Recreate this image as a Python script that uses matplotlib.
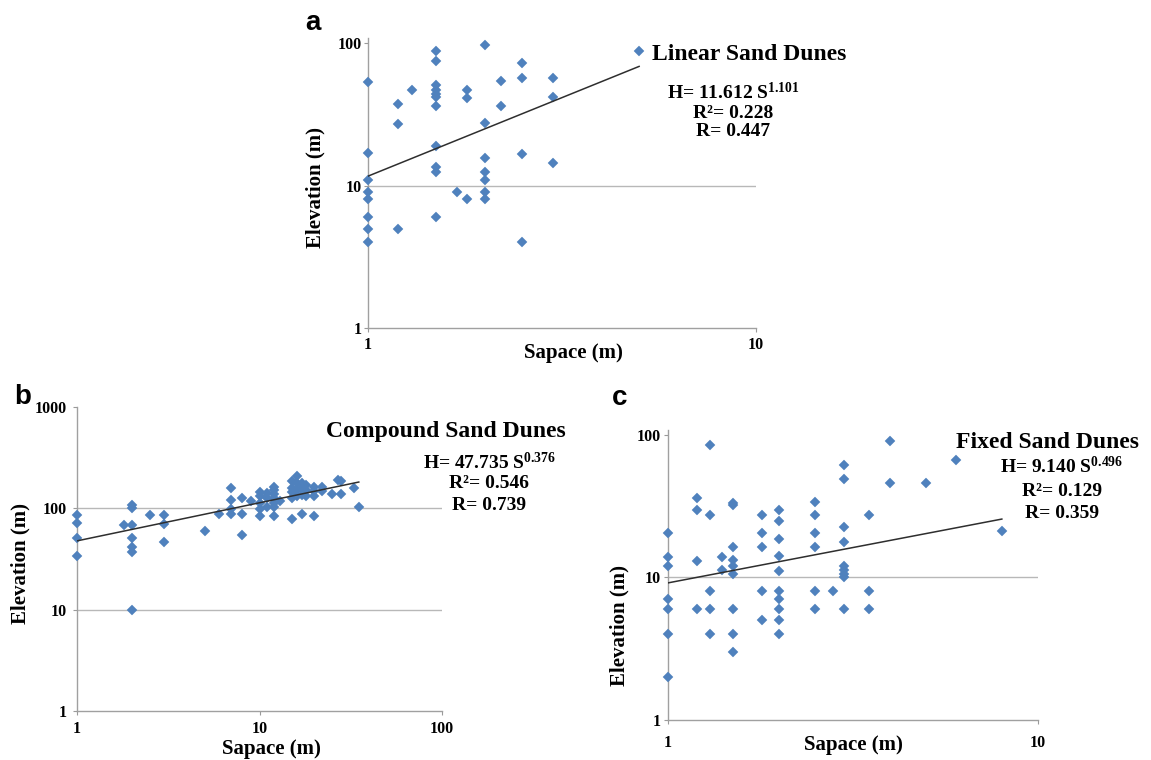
import matplotlib
matplotlib.use("Agg")
import matplotlib.pyplot as plt

plt.rcParams['font.family'] = ['Liberation Serif', 'DejaVu Serif']
plt.rcParams['font.weight'] = 'bold'
plt.rcParams['mathtext.fontset'] = 'custom'
plt.rcParams['mathtext.rm'] = 'Liberation Serif:bold'
plt.rcParams['mathtext.bf'] = 'Liberation Serif:bold'
plt.rcParams['mathtext.it'] = 'Liberation Serif:bold:italic'

# elevation values, grouped by spacing (x)
linear_cols = {
    1.0: [53, 17, 11, 9, 8, 6, 5, 4],
    1.2: [37, 27, 5],
    1.3: [47],
    1.5: [88, 74, 51, 47, 44, 42, 36, 19, 13.5, 12.5, 6],
    1.7: [9],
    1.8: [47, 41, 8],
    2.0: [96, 27.5, 15.5, 12.4, 11, 9, 8],
    2.2: [54, 36],
    2.5: [72, 57, 16.6, 4],
    3.0: [57, 42, 14.3],
    5.0: [88],
}
compound_cols = {
    1.0: [85, 72, 51, 34],
    1.8: [69],
    2.0: [107, 100, 68, 51, 42, 37, 10],
    2.5: [86],
    3.0: [86, 70, 47],
    5.0: [60],
    6.0: [88],
    7.0: [158, 120, 98, 88],
    8.0: [127, 88, 54],
    9.0: [118],
    10.0: [144, 132, 113, 98, 84],
    11.0: [143, 127, 103],
    12.0: [164, 153, 140, 127, 113, 102, 84],
    13.0: [118],
    15.0: [184, 158, 144, 127, 78],
    16.0: [209, 177, 153, 132],
    17.0: [177, 158, 134, 88],
    18.0: [170, 153, 132],
    20.0: [164, 147, 132, 84],
    22.0: [164, 147],
    25.0: [140],
    27.0: [191],
    28.0: [184, 140],
    33.0: [158],
    35.0: [104],
}
fixed_cols = {
    1.0: [20.5, 14, 12, 7, 6, 4, 2],
    1.2: [36, 29.5, 13, 6],
    1.3: [85, 27.5, 8, 6, 4],
    1.4: [14, 11.2],
    1.5: [33, 32, 16.3, 13.2, 12, 10.6, 6, 4, 3],
    1.8: [27.5, 20.5, 16.3, 8, 5],
    2.0: [29.5, 25, 18.6, 14.2, 11, 8, 7, 6, 5, 4],
    2.5: [34, 27.5, 20.5, 16.3, 8, 6],
    2.8: [8],
    3.0: [61, 49, 22.7, 17.6, 12, 11.2, 10.6, 10, 6],
    3.5: [27.5, 8, 6],
    4.0: [91, 46],
    5.0: [46],
    6.0: [67],
    8.0: [21],
}

titles = ["Linear Sand Dunes", "Compound Sand Dunes", "Fixed Sand Dunes"]
letters = ["a", "b", "c"]
fit_a = [11.612, 47.735, 9.140]
fit_b = [1.101, 0.376, 0.496]
fit_r2 = [0.228, 0.546, 0.129]
fit_r = [0.447, 0.739, 0.359]
x_ticks = [[1, 10], [1, 10, 100], [1, 10]]
y_ticks = [[1, 10, 100], [1, 10, 100, 1000], [1, 10, 100]]

W, H = 1151, 760
fig = plt.figure(figsize=(W / 100, H / 100), dpi=100)


def fpos(x, y):
    return x / W, 1 - y / H


# layout in pixels: axes box (left, top, right, bottom), text anchors
boxes = [(367.7, 38, 756, 328.3), (77, 407, 442, 711), (667.7, 430, 1037.7, 720)]
y_top = [108, 1000, 108]
letter_xy = [(313, 23), (23, 397), (620, 398)]
title_xy = [(749, 55), (446, 432), (1048, 442)]
eq_x = [733, 489, 1062]
eq_y = [(92, 113, 131), (462, 484, 505), (467, 492, 513)]
xlab_xy = [(573, 353), (271, 749), (853, 745)]
ylab_xy = [(315, 188), (20, 564), (619, 625)]
xpads = [3.5, 4.0, 8]
ypads = [1.5, 4.5, 2]

for i, cols in enumerate([linear_cols, compound_cols, fixed_cols]):
    l, t, r, b = boxes[i]
    ax = fig.add_axes([l / W, 1 - b / H, (r - l) / W, (b - t) / H])
    ax.set_xscale('log')
    ax.set_yscale('log')
    ax.set_xlim(x_ticks[i][0], x_ticks[i][-1])
    ax.set_ylim(1, y_top[i])
    ax.set_xticks(x_ticks[i])
    ax.set_xticklabels([str(v) for v in x_ticks[i]])
    ax.set_yticks(y_ticks[i])
    ax.set_yticklabels([str(v) for v in y_ticks[i]])
    ax.minorticks_off()
    ax.tick_params(axis='both', length=3, width=0.8, color='#9a9a9a', labelsize=11.5)
    ax.tick_params(axis='x', pad=xpads[i])
    ax.tick_params(axis='y', pad=ypads[i])
    for s in ['top', 'right']:
        ax.spines[s].set_visible(False)
    for s in ['left', 'bottom']:
        ax.spines[s].set_color('#a0a0a0')
        ax.spines[s].set_linewidth(1.0)
    for v in y_ticks[i][1:-1]:
        ax.axhline(v, color='#b8b8b8', lw=1.0, zorder=0)

    xs = [x for x, ys in cols.items() for _ in ys]
    ys = [y for _, yy in cols.items() for y in yy]
    ax.plot(xs, ys, ls='none', marker='D', ms=4.9, mfc='#4f81bd', mec='#4f81bd',
            mew=0.3, zorder=3, clip_on=False)

    # power trendline H = a * S^b
    tx = [min(xs), max(xs)]
    ty = [fit_a[i] * v ** fit_b[i] for v in tx]
    ax.plot(tx, ty, color='#2e2e2e', lw=1.1, zorder=4)

    fig.text(*fpos(*letter_xy[i]), letters[i], family='Liberation Sans',
             weight='bold', fontsize=20, ha='center', va='center')
    fig.text(*fpos(*title_xy[i]), titles[i], fontsize=17, ha='center', va='center')
    eq_lines = [f"H= {fit_a[i]:.3f} $\\mathrm{{S}}^{{{fit_b[i]:.3f}}}$",
                f"R\u00b2= {fit_r2[i]:.3f}",
                f"R= {fit_r[i]:.3f}"]
    for s, yy in zip(eq_lines, eq_y[i]):
        fig.text(*fpos(eq_x[i], yy), s, fontsize=14, ha='center', va='center')
    fig.text(*fpos(*xlab_xy[i]), "Sapace (m)", fontsize=15, ha='center', va='center')
    fig.text(*fpos(*ylab_xy[i]), "Elevation (m)", fontsize=15, ha='center',
             va='center', rotation=90)

fig.savefig("out.png", dpi=100)
